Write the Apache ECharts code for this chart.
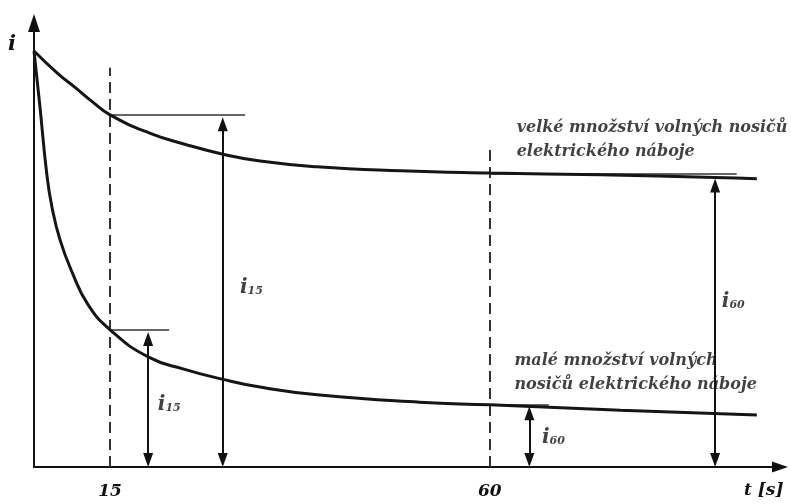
<!DOCTYPE html>
<html>
<head>
<meta charset="utf-8">
<script src="https://cdn.jsdelivr.net/npm/echarts@6/dist/echarts.min.js"></script>
<style>
  html, body { margin: 0; padding: 0; background: #ffffff; }
  #chart { width: 791px; height: 504px; }
</style>
</head>
<body>
<div id="chart"></div>
<script>
// Schematic axes: time position t and current i, both on a 0..100 scale.
const upperCurve = [
  [0, 93.7], [3.2, 88.6], [5.5, 85.5], [7.8, 82.3], [10.2, 79.3], [15.5, 75.2],
  [20.2, 72.7], [25.2, 70.5], [30.3, 68.9], [37.9, 67.6], [49.1, 66.7],
  [61.1, 66.2], [75.9, 65.8], [91.3, 65.2], [96.9, 64.9]
];
const lowerCurve = [
  [0, 93.7], [0.8, 81.1], [1.7, 66.2], [2.4, 58.6], [3.5, 51.1], [5.1, 43.9],
  [7.2, 36.7], [10.2, 30.9], [15.3, 24.8], [20.2, 22.0], [25.2, 19.8],
  [30.3, 18.0], [38.3, 16.2], [51.7, 14.6], [61.1, 14.0], [78.6, 12.8], [96.9, 11.7]
];

// Time ticks (15 s and 60 s) and their dashed guides: [t, top]
const tickPositions = [10.2, 61.1];
const tickLabels = ['15', '60'];
const dashedGuides = [[10.2, 89.9], [61.1, 72.0]];

// Reading levels at 15 s and 60 s: [from t, to t, level]
const levelLines = [
  [10.2, 28.3, 79.3],
  [10.2, 18.1, 30.9],
  [61.1, 94.2, 66.0],
  [61.1, 69.0, 14.0]
];

// Double-headed measurement arrows: [t, level]
const spanArrows = [[15.3, 30.4], [25.3, 78.8], [66.4, 13.7], [91.3, 65.0]];
const spanSubscripts = ['15', '15', '60', '60'];
const spanLabelAnchors = [[16.6, 14.0], [27.6, 40.3], [68.1, 6.5], [92.2, 37.2]];

const upperCaption = ['velké množství volných nosičů', 'elektrického náboje'];
const lowerCaption = ['malé množství volných', 'nosičů elektrického náboje'];
const captionAnchors = [[64.7, 73.6], [64.4, 21.3]];

const FONT = '"DejaVu Serif", "Liberation Serif", serif';
const INK = '#111111';

const GRID = { left: 34, right: 11, top: 23, bottom: 37 };
const CHART_H = 504;
const ARROW_LEN = 14;
// keep each arrowhead's tip on its end point rather than centred on it
const arrowInset = (ARROW_LEN / 2) / ((CHART_H - GRID.top - GRID.bottom) / 100);

const chart = echarts.init(document.getElementById('chart'), null, { renderer: 'canvas' });

function nearestTickLabel(v) {
  let best = 0;
  tickPositions.forEach((p, k) => {
    if (Math.abs(p - v) < Math.abs(tickPositions[best] - v)) best = k;
  });
  return tickLabels[best];
}

const iRich = {
  i: { fontFamily: FONT, fontSize: 20, fontWeight: 'bold', fontStyle: 'italic', color: INK },
  s: { fontFamily: FONT, fontSize: 11, fontWeight: 'bold', fontStyle: 'italic', color: INK, padding: [7, 0, 0, 0] }
};

const labelData = spanSubscripts.map((sub, k) => ({
  value: spanLabelAnchors[k],
  label: { formatter: '{i|i}{s|' + sub + '}' }
}));

const captionData = [upperCaption, lowerCaption].map((lines, k) => ({
  value: captionAnchors[k],
  label: { formatter: lines.join('\n') }
}));

chart.setOption({
  animation: false,
  backgroundColor: '#ffffff',
  grid: GRID,
  xAxis: {
    type: 'value', min: 0, max: 100,
    axisLine: { show: true, lineStyle: { color: INK, width: 2 }, symbol: ['none', 'triangle'], symbolSize: [11, 16] },
    axisTick: { show: false },
    splitLine: { show: false },
    axisLabel: {
      customValues: tickPositions,
      formatter: nearestTickLabel,
      margin: 16,
      fontFamily: FONT, fontSize: 17, fontWeight: 'bold', fontStyle: 'italic', color: INK
    }
  },
  yAxis: {
    type: 'value', min: 0, max: 100,
    axisLine: { show: true, lineStyle: { color: INK, width: 2 }, symbol: ['none', 'triangle'], symbolSize: [12, 18] },
    axisTick: { show: false },
    splitLine: { show: false },
    axisLabel: { show: false }
  },
  graphic: [
    { type: 'text', left: 8, top: 34, style: { text: 'i', font: 'italic bold 21px ' + FONT, fill: INK } },
    { type: 'text', left: 744, top: 482, style: { text: 't [s]', font: 'italic bold 17px ' + FONT, fill: INK } }
  ],
  series: [
    {
      type: 'line', data: upperCurve, smooth: 0.5, showSymbol: false, silent: true,
      lineStyle: { color: '#151515', width: 3 }, z: 5
    },
    {
      type: 'line', data: lowerCurve, smooth: 0.5, showSymbol: false, silent: true,
      lineStyle: { color: '#151515', width: 3 }, z: 5
    },
    {
      // dashed time guides and horizontal reading levels
      type: 'line', data: [], silent: true,
      markLine: {
        silent: true, symbol: ['none', 'none'], label: { show: false },
        data: dashedGuides.map(([t, top]) => [
          { coord: [t, 0], lineStyle: { type: [11, 6], color: '#333', width: 2 } },
          { coord: [t, top] }
        ]).concat(levelLines.map(([a, b, lv]) => [
          { coord: [a, lv], lineStyle: { type: 'solid', color: '#666', width: 2 } },
          { coord: [b, lv] }
        ]))
      }
    },
    {
      // measurement arrows from the time axis up to each reading
      type: 'line', data: [], silent: true,
      markLine: {
        silent: true, symbol: ['triangle', 'triangle'], symbolSize: [10, ARROW_LEN], label: { show: false },
        lineStyle: { type: 'solid', color: '#111', width: 2 },
        data: spanArrows.map(([t, lv]) => [
          { coord: [t, arrowInset] },
          { coord: [t, lv - arrowInset] }
        ])
      }
    },
    {
      type: 'scatter', data: labelData, symbolSize: 0, silent: true, z: 10,
      label: { show: true, position: 'right', distance: 0, rich: iRich }
    },
    {
      type: 'scatter', data: captionData, symbolSize: 0, silent: true, z: 10,
      label: {
        show: true, position: 'right', distance: 0, align: 'left', verticalAlign: 'middle',
        fontFamily: FONT, fontSize: 16, fontWeight: 'bold', fontStyle: 'italic', color: INK, lineHeight: 24
      }
    }
  ]
});
</script>
</body>
</html>
